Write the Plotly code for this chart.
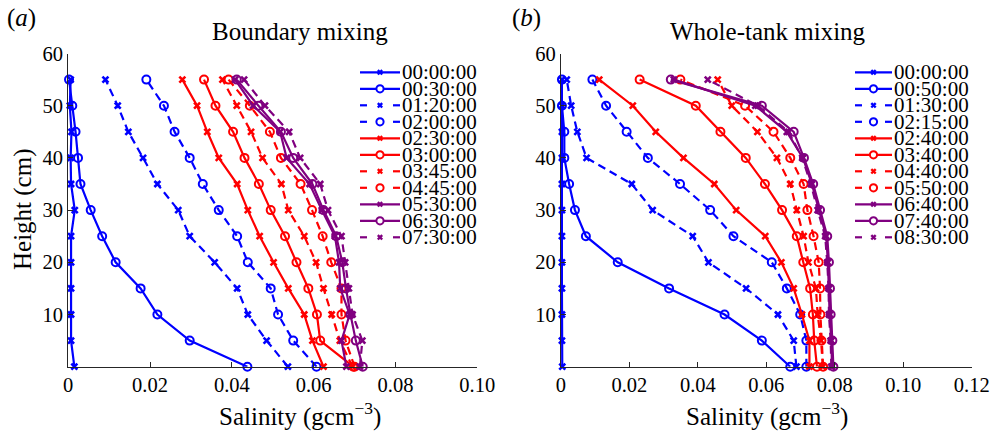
import plotly.graph_objects as go

# ---------------------------------------------------------------------------
# Salinity profiles (g cm^-3) measured at fixed heights (cm) in the tank
# ---------------------------------------------------------------------------
heights = [0, 5, 10, 15, 20, 25, 30, 35, 40, 45, 50, 55]

# (a) Boundary mixing
boundary_times = ["00:00:00", "00:30:00", "01:20:00", "02:00:00", "02:30:00", "03:00:00",
                  "03:45:00", "04:45:00", "05:30:00", "06:30:00", "07:30:00"]
bm_000000 = [0.0015, 0.0007, 0.0007, 0.0007, 0.0007, 0.0007, 0.0016, 0.0007, 0.0006, 0.0008, 0.0004, 0.0006]
bm_003000 = [0.0438, 0.0297, 0.0218, 0.0177, 0.0116, 0.0083, 0.0055, 0.0030, 0.0024, 0.0018, 0.0010, 0.0002]
bm_012000 = [0.0537, 0.0485, 0.0439, 0.0413, 0.0358, 0.0297, 0.0269, 0.0218, 0.0183, 0.0147, 0.0121, 0.0091]
bm_020000 = [0.0607, 0.0550, 0.0513, 0.0495, 0.0439, 0.0413, 0.0368, 0.0329, 0.0297, 0.0260, 0.0234, 0.0191]
bm_023000 = [0.0624, 0.0597, 0.0577, 0.0538, 0.0502, 0.0468, 0.0439, 0.0413, 0.0368, 0.0340, 0.0315, 0.0279]
bm_030000 = [0.0697, 0.0616, 0.0608, 0.0587, 0.0558, 0.0530, 0.0495, 0.0466, 0.0431, 0.0403, 0.0360, 0.0332]
bm_034500 = [0.0695, 0.0664, 0.0644, 0.0624, 0.0606, 0.0577, 0.0538, 0.0521, 0.0475, 0.0447, 0.0412, 0.0377]
bm_044500 = [0.0700, 0.0678, 0.0668, 0.0668, 0.0643, 0.0622, 0.0596, 0.0568, 0.0520, 0.0493, 0.0444, 0.0392]
bm_053000 = [0.0680, 0.0668, 0.0688, 0.0665, 0.0662, 0.0652, 0.0620, 0.0590, 0.0534, 0.0518, 0.0452, 0.0408]
bm_063000 = [0.0720, 0.0703, 0.0690, 0.0679, 0.0670, 0.0655, 0.0624, 0.0597, 0.0550, 0.0520, 0.0465, 0.0412]
bm_073000 = [0.0713, 0.0719, 0.0695, 0.0686, 0.0677, 0.0668, 0.0635, 0.0616, 0.0567, 0.0540, 0.0481, 0.0430]

# (b) Whole-tank mixing
whole_tank_times = ["00:00:00", "00:50:00", "01:30:00", "02:15:00", "02:40:00", "03:40:00",
                    "04:40:00", "05:50:00", "06:40:00", "07:40:00", "08:30:00"]
wt_000000 = [0.0004, 0.0003, 0.0003, 0.0003, 0.0003, 0.0003, 0.0003, 0.0003, 0.0003, 0.0003, 0.0003, 0.0003]
wt_005000 = [0.0670, 0.0587, 0.0478, 0.0316, 0.0166, 0.0073, 0.0041, 0.0024, 0.0010, 0.0010, 0.0003, 0.0003]
wt_013000 = [0.0688, 0.0680, 0.0634, 0.0541, 0.0431, 0.0385, 0.0268, 0.0207, 0.0075, 0.0048, 0.0030, 0.0017]
wt_021500 = [0.0717, 0.0717, 0.0699, 0.0660, 0.0616, 0.0504, 0.0436, 0.0348, 0.0254, 0.0192, 0.0132, 0.0092]
wt_024000 = [0.0726, 0.0726, 0.0704, 0.0680, 0.0644, 0.0597, 0.0512, 0.0448, 0.0358, 0.0277, 0.0210, 0.0112]
wt_034000 = [0.0748, 0.0740, 0.0736, 0.0728, 0.0708, 0.0689, 0.0646, 0.0596, 0.0540, 0.0466, 0.0394, 0.0230]
wt_044000 = [0.0765, 0.0760, 0.0750, 0.0745, 0.0723, 0.0709, 0.0689, 0.0670, 0.0631, 0.0574, 0.0499, 0.0458]
wt_055000 = [0.0766, 0.0761, 0.0758, 0.0757, 0.0753, 0.0738, 0.0720, 0.0709, 0.0670, 0.0621, 0.0538, 0.0349]
wt_064000 = [0.0792, 0.0790, 0.0785, 0.0783, 0.0780, 0.0775, 0.0753, 0.0733, 0.0707, 0.0660, 0.0568, 0.0330]
wt_074000 = [0.0796, 0.0793, 0.0788, 0.0786, 0.0783, 0.0778, 0.0757, 0.0737, 0.0710, 0.0680, 0.0587, 0.0321]
wt_083000 = [0.0790, 0.0788, 0.0783, 0.0782, 0.0778, 0.0772, 0.0750, 0.0730, 0.0705, 0.0665, 0.0575, 0.0429]

boundary_profiles = [bm_000000, bm_003000, bm_012000, bm_020000, bm_023000, bm_030000,
                     bm_034500, bm_044500, bm_053000, bm_063000, bm_073000]
whole_tank_profiles = [wt_000000, wt_005000, wt_013000, wt_021500, wt_024000, wt_034000,
                       wt_044000, wt_055000, wt_064000, wt_074000, wt_083000]

x_ticks_a = [0, 0.02, 0.04, 0.06, 0.08, 0.10]
x_labels_a = ["0", "0.02", "0.04", "0.06", "0.08", "0.10"]
x_ticks_b = [0, 0.02, 0.04, 0.06, 0.08, 0.10, 0.12]
x_labels_b = ["0", "0.02", "0.04", "0.06", "0.08", "0.10", "0.12"]
y_ticks = [10, 20, 30, 40, 50, 60]

# ---------------------------------------------------------------------------
# Styling: colour groups of four/four/three, alternating x / o markers,
# solid pairs followed by dashed pairs
# ---------------------------------------------------------------------------
BLUE, RED, PURPLE = "#0000ff", "#ff0000", "#800080"
colors = [BLUE] * 4 + [RED] * 4 + [PURPLE] * 3
symbols = ["x", "o", "x", "o", "x", "o", "x", "o", "x", "o", "x"]
dashed = [False, False, True, True, False, False, True, True, False, False, True]

FONT = "Liberation Serif"
W, H = 991, 432
LINE_W = 2.2
DASH = "8px,5px"


def px(x):
    return x / W


def py(y):
    return 1 - y / H


def marker_style(sym, color):
    if sym == "x":
        return dict(symbol="x-thin", size=6, color=color,
                    line=dict(color=color, width=2.6))
    return dict(symbol="circle-open", size=8, color=color,
                line=dict(color=color, width=2))


fig = go.Figure()

for profiles, times, xa, ya in [(boundary_profiles, boundary_times, "x", "y"),
                                (whole_tank_profiles, whole_tank_times, "x2", "y2")]:
    for k, (vals, label) in enumerate(zip(profiles, times)):
        fig.add_trace(go.Scatter(
            x=vals, y=heights, name=label, mode="lines+markers",
            xaxis=xa, yaxis=ya, cliponaxis=False, showlegend=False,
            line=dict(color=colors[k], width=LINE_W,
                      dash=DASH if dashed[k] else "solid"),
            marker=marker_style(symbols[k], colors[k]),
        ))

# ---------------------------------------------------------------------------
# Axes (pixel geometry of the two panels)
# ---------------------------------------------------------------------------
AX_COLOR = "#262626"
y_dom = [py(366.7), py(53.5)]
common_x = dict(showgrid=False, zeroline=False, showline=True, linecolor=AX_COLOR,
                linewidth=1, ticks="inside", ticklen=5, tickcolor=AX_COLOR,
                automargin=False,
                tickfont=dict(family=FONT, size=20.5, color="#000"))
common_y = dict(common_x, range=[0, 60], tickvals=y_ticks, domain=y_dom)

fig.update_layout(
    xaxis=dict(common_x, domain=[px(68.2), px(477.3)], range=[0, 0.10],
               tickvals=x_ticks_a, ticktext=x_labels_a, anchor="y"),
    yaxis=dict(common_y, anchor="x"),
    xaxis2=dict(common_x, domain=[px(560.9), px(971.7)], range=[0, 0.12],
                tickvals=x_ticks_b, ticktext=x_labels_b, anchor="y2"),
    yaxis2=dict(common_y, anchor="x2"),
)

# ---------------------------------------------------------------------------
# Text: panel letters, titles and axis labels
# ---------------------------------------------------------------------------
annotations = []


def text(x, y, s, size, angle=0, xanchor="center"):
    annotations.append(dict(
        x=px(x), y=py(y), xref="paper", yref="paper", text=s, showarrow=False,
        xanchor=xanchor, yanchor="middle", textangle=angle,
        font=dict(family=FONT, size=size, color="#000")))


text(21, 18, "(<i>a</i>)", 25)
text(526, 18, "(<i>b</i>)", 25)
text(299.5, 31, "Boundary mixing", 25)
text(768, 31, "Whole-tank mixing", 25)
text(23, 210, "Height (cm)", 25, angle=-90)
text(300, 414, "Salinity (gcm<sup>−3</sup>)", 25)
text(766.7, 414, "Salinity (gcm<sup>−3</sup>)", 25)

# ---------------------------------------------------------------------------
# Legends: one per panel, drawn as line samples, marker glyphs and labels
# ---------------------------------------------------------------------------
shapes = []
ROW0, ROW_STEP = 72.3, 16.5


def legend(x0, x1, x_text, labels):
    xm = (x0 + x1) / 2
    for k, label in enumerate(labels):
        y = ROW0 + k * ROW_STEP
        c = colors[k]
        seg = dict(type="line", xref="paper", yref="paper",
                   line=dict(color=c, width=LINE_W), layer="above")
        if dashed[k]:
            shapes.append(dict(seg, x0=px(x0), x1=px(x0 + 7), y0=py(y), y1=py(y)))
            shapes.append(dict(seg, x0=px(x1 - 7), x1=px(x1), y0=py(y), y1=py(y)))
        else:
            shapes.append(dict(seg, x0=px(x0), x1=px(x1), y0=py(y), y1=py(y)))
        if symbols[k] == "o":
            shapes.append(dict(type="circle", xref="paper", yref="paper",
                               xsizemode="pixel", ysizemode="pixel",
                               xanchor=px(xm), yanchor=py(y),
                               x0=-3.6, x1=3.6, y0=-3.6, y1=3.6,
                               line=dict(color=c, width=2), fillcolor="white"))
        else:
            for sgn in (1, -1):
                shapes.append(dict(type="line", xref="paper", yref="paper",
                                   xsizemode="pixel", ysizemode="pixel",
                                   xanchor=px(xm), yanchor=py(y),
                                   x0=-2.2, x1=2.2, y0=-2.2 * sgn, y1=2.2 * sgn,
                                   line=dict(color=c, width=2.4)))
        text(x_text, y, label, 21, xanchor="left")


legend(360, 400, 399.5, boundary_times)
legend(855, 892, 891.5, whole_tank_times)

fig.update_layout(
    width=W, height=H, margin=dict(l=0, r=0, t=0, b=0, pad=0, autoexpand=False),
    paper_bgcolor="white", plot_bgcolor="white",
    showlegend=False, annotations=annotations, shapes=shapes,
    font=dict(family=FONT, color="#000"),
)

# The figure is exactly window-sized, so drop the page's default body margin.
page_css = ("document.documentElement.style.margin='0';"
            "document.body.style.margin='0';"
            "document.body.style.overflow='hidden';")

fig.write_html("out.html", post_script=page_css)
